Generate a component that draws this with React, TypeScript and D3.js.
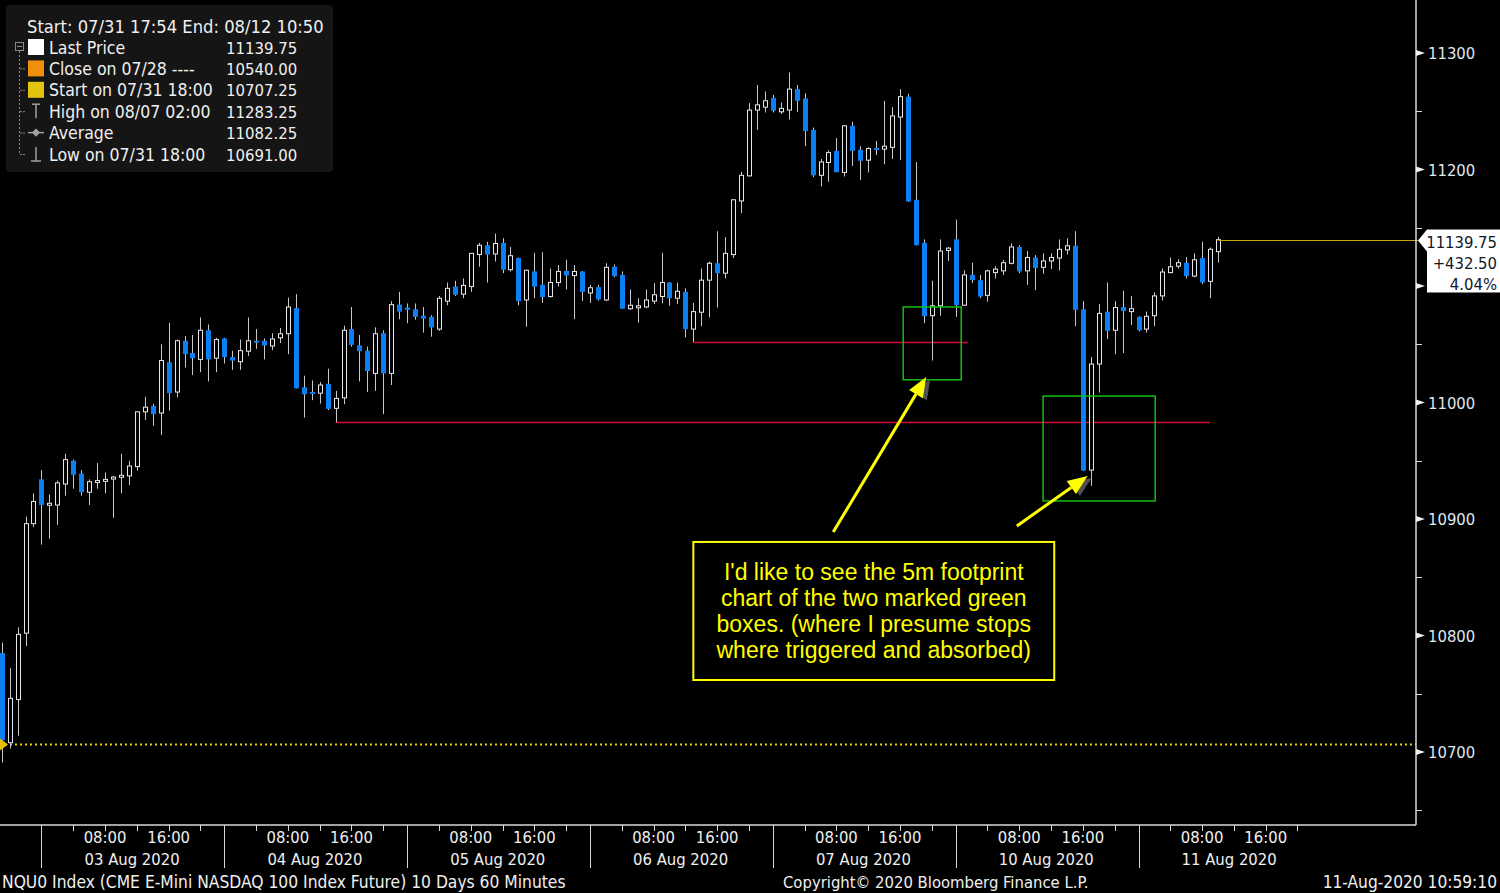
import React, { useEffect } from 'react';
import * as d3 from 'd3';

type Bar = [number, number, number, number]; // open, high, low, close

const preSession: Bar[] = [
  [10785, 10794, 10691, 10710],
  [10708, 10772, 10703, 10746],
  [10745, 10807, 10714, 10801],
  [10802, 10902, 10791, 10896],
  [10896, 10922, 10893, 10915],
];

const aug03: Bar[] = [
  [10934, 10942, 10878, 10912],
  [10912.5, 10921, 10883, 10913.5],
  [10912, 10933, 10895, 10931],
  [10930, 10956, 10920, 10951],
  [10950, 10951, 10926, 10938],
  [10939, 10942, 10920, 10923],
  [10923, 10934, 10912, 10932],
  [10932, 10948, 10926, 10933],
  [10933, 10940, 10922, 10934],
  [10935, 10937, 10901, 10936],
  [10937, 10956, 10922, 10937.5],
  [10937, 10950, 10929, 10945.5],
  [10945, 10992, 10941.5, 10992],
  [10992, 11005, 10985, 10996],
  [10997, 10999, 10980, 10990],
  [10991, 11050, 10972, 11036],
  [11034.5, 11068.5, 10993, 11008],
  [11009, 11054, 11004.5, 11053],
  [11053, 11057, 11030, 11041.5],
  [11042.5, 11058, 11023.5, 11038],
  [11037, 11073, 11026, 11062],
  [11062, 11067, 11018, 11037],
  [11038, 11055.5, 11026, 11054],
];

const aug04: Bar[] = [
  [11055, 11055.5, 11033.5, 11039],
  [11039, 11044.5, 11028, 11036],
  [11035, 11054, 11028, 11044.5],
  [11044, 11073, 11040, 11053],
  [11053, 11063, 11046, 11051.5],
  [11053, 11055, 11037, 11049],
  [11048.5, 11059.5, 11045, 11054.5],
  [11055.5, 11064, 11051, 11059],
  [11059, 11090, 11041.5, 11082],
  [11081, 11093, 11012, 11012.25],
  [11013, 11023, 10987, 11007],
  [11009, 11019, 11002, 11008],
  [11008, 11017.5, 10999, 11015],
  [11016, 11029, 10993.5, 10994.5],
  [10995, 11010, 10983, 11003.5],
  [11004, 11066, 10998.5, 11062],
  [11063, 11082, 11048, 11049.5],
  [11049, 11058, 11018, 11044],
  [11044.5, 11048, 11009, 11027],
  [11025, 11064.5, 11010, 11059],
  [11059.5, 11062, 10990, 11025],
  [11025, 11087, 11015, 11084],
  [11084, 11095, 11071.5, 11078],
];

const aug05: Bar[] = [
  [11081.5, 11085, 11068, 11079.5],
  [11080, 11085, 11071, 11073.5],
  [11074.5, 11082, 11060, 11072],
  [11073.5, 11075, 11056.5, 11064.5],
  [11063, 11091.5, 11061.5, 11089.5],
  [11087, 11103, 11083.5, 11098],
  [11099.5, 11104.5, 11091.5, 11092.5],
  [11093, 11106.5, 11089.5, 11100.5],
  [11099.5, 11128, 11095, 11128],
  [11127, 11137, 11116.5, 11135],
  [11135, 11138, 11103, 11127],
  [11127.5, 11145, 11121, 11136.5],
  [11137, 11141, 11111, 11114],
  [11114, 11133.5, 11112.5, 11126],
  [11124, 11124.5, 11083.5, 11087],
  [11088, 11114, 11065, 11113.5],
  [11112.5, 11128.5, 11089.5, 11099.5],
  [11101, 11129, 11085.5, 11090.5],
  [11091, 11115, 11090, 11103],
  [11103, 11118, 11099.5, 11112.5],
  [11113, 11122.5, 11097, 11109],
  [11109, 11118, 11071.5, 11112.5],
  [11112.5, 11112.75, 11087, 11095],
];

const aug06: Bar[] = [
  [11094, 11101, 11085.5, 11098.5],
  [11099, 11101, 11087.5, 11088.5],
  [11088, 11119.5, 11087, 11116],
  [11116.5, 11118.5, 11107.5, 11108.5],
  [11109.5, 11112.5, 11080.25, 11080.5],
  [11080.5, 11097, 11079.5, 11083.5],
  [11082.5, 11089.5, 11068.5, 11083],
  [11082, 11097, 11081, 11088],
  [11087, 11102.5, 11084.5, 11092.5],
  [11091, 11128.5, 11085, 11103],
  [11103, 11103.25, 11083, 11089.5],
  [11089.5, 11103, 11084.5, 11095.5],
  [11095, 11098, 11056, 11063],
  [11063, 11085.5, 11052, 11078],
  [11077.5, 11115, 11065.5, 11105],
  [11105, 11121, 11073, 11119.5],
  [11119.5, 11147, 11081.5, 11111],
  [11111, 11142, 11106.5, 11128],
  [11127, 11174.5, 11124, 11174],
  [11173, 11198, 11162.5, 11195],
  [11194.5, 11257, 11194.25, 11251],
  [11251, 11272.5, 11234, 11255.5],
  [11253.5, 11267, 11249, 11259],
];

const aug07: Bar[] = [
  [11261.5, 11264, 11249, 11250.5],
  [11249.5, 11257.5, 11247.5, 11252.5],
  [11251, 11283.25, 11243, 11269],
  [11269, 11272.5, 11249.5, 11259],
  [11261, 11265.5, 11220, 11233],
  [11234, 11236, 11193.5, 11195],
  [11195, 11209, 11185.5, 11206.5],
  [11206, 11216.5, 11189.5, 11214.5],
  [11216, 11227, 11197.5, 11197.75],
  [11197.5, 11238, 11194, 11237.5],
  [11237.5, 11241, 11203, 11216],
  [11217, 11220, 11191, 11207.5],
  [11208, 11219, 11197.5, 11218],
  [11218.5, 11224.5, 11212.5, 11217.5],
  [11217.5, 11259, 11204.5, 11220],
  [11219, 11253.5, 11209, 11246],
  [11245, 11269, 11208, 11262.5],
  [11262.5, 11265, 11172.25, 11172.5],
  [11174, 11206.5, 11134.75, 11135],
  [11137, 11140, 11068, 11074],
  [11074.5, 11104.5, 11036, 11083],
  [11083, 11140, 11074.5, 11130],
  [11130.5, 11133.5, 11121.5, 11132.5],
];

const aug10: Bar[] = [
  [11140, 11157, 11073.5, 11083.5],
  [11083.5, 11113.5, 11083.25, 11109.5],
  [11109.5, 11120, 11102.5, 11105],
  [11105, 11109.5, 11089.5, 11091],
  [11092, 11114, 11086.5, 11113],
  [11111.5, 11117, 11106.5, 11114.5],
  [11113, 11122.5, 11109.5, 11120],
  [11119.5, 11136.5, 11118.5, 11133.5],
  [11133.5, 11135, 11111, 11112.5],
  [11113, 11130, 11101, 11124.5],
  [11124.5, 11126.5, 11096.5, 11115.5],
  [11116, 11128, 11110.5, 11121.5],
  [11121.5, 11128, 11114.5, 11124.5],
  [11124, 11140, 11113.5, 11131.5],
  [11131, 11141, 11127, 11134.5],
  [11134.5, 11147, 11065.5, 11079.5],
  [11080, 11087, 10941.25, 10941.5],
  [10942, 11039, 10928.5, 11033],
  [11033, 11084.5, 11008.5, 11076.5],
  [11078, 11103, 11054.5, 11061.5],
  [11062, 11087, 11041.5, 11081.5],
  [11082, 11096, 11042.5, 11078.5],
  [11078, 11091.5, 11066.5, 11080.5],
];

const aug11: Bar[] = [
  [11073.5, 11074, 11061, 11062],
  [11063, 11078, 11060, 11074],
  [11074.5, 11094.5, 11065.5, 11091.5],
  [11091.5, 11115, 11087.5, 11112],
  [11111.5, 11124.5, 11111, 11116.5],
  [11117, 11123, 11115, 11120],
  [11120, 11125, 11106.5, 11108.5],
  [11108.5, 11128, 11107.5, 11122.5],
  [11124, 11138, 11101.5, 11103],
  [11104, 11133, 11089.5, 11131.5],
  [11129.5, 11142.25, 11120, 11139.75],
];

const sessionLabels = ['03 Aug 2020', '04 Aug 2020', '05 Aug 2020', '06 Aug 2020', '07 Aug 2020', '10 Aug 2020', '11 Aug 2020'];
const sessionBars = [aug03, aug04, aug05, aug06, aug07, aug10, aug11];
const hourLabels = ['08:00', '16:00'];
const hourOffsets = [8, 16];
const minorTickOffsets = [4, 8, 12, 16, 20];

const majorYTicks = [10700, 10800, 10900, 11000, 11100, 11200, 11300];
const minorYTicks = [10650, 10750, 10850, 10950, 11050, 11150, 11250];

const lastPrice = 11139.75;
const startPrice = 10707.25;
const changeText = '+432.50';
const pctText = '4.04%';

const legendTitle = 'Start: 07/31 17:54 End: 08/12 10:50';
const legendLabels = ['Last Price', 'Close on 07/28 ----', 'Start on 07/31 18:00', 'High on 08/07 02:00', 'Average', 'Low on 07/31 18:00'];
const legendValues = ['11139.75', '10540.00', '10707.25', '11283.25', '11082.25', '10691.00'];
const legendIcons = ['white', 'orange', 'yellow', 'high', 'avg', 'low'];

// annotations in data space: [barIndex, price]
const redLines = [
  { from: 87, to: 121.5, price: 11052 },
  { from: 42, to: 152, price: 10983 },
];
const greenBoxes = [
  { x0: 113.4, x1: 120.7, p0: 11082, p1: 11019.5 },
  { x0: 131, x1: 145.1, p0: 11005.5, p1: 10915.5 },
];
const arrows = [
  { x0: 104.6, p0: 10888.8, x1: 116.3, p1: 11021.9 },
  { x0: 127.7, p0: 10894, x1: 136.6, p1: 10937 },
];
const noteBox = { x0: 87, x1: 132.4, p0: 10880.3, p1: 10761.8 };
const noteLines = [
  "I'd like to see the 5m footprint",
  'chart of the two marked green',
  'boxes. (where I presume stops',
  'where triggered and absorbed)',
];

const footerLeft = 'NQU0 Index (CME E-Mini NASDAQ 100 Index Future) 10 Days 60 Minutes';
const footerMid = 'Copyright\u00A9 2020 Bloomberg Finance L.P.';
const footerRight = '11-Aug-2020 10:59:10';

const FONT = "'DejaVu Sans Condensed', 'DejaVu Sans', sans-serif";
const BLUE = '#0c7ff2';
const PLOT_R = 1416;
const PLOT_B = 825;

export default function App() {
  useEffect(() => {
    document.body.style.margin = '0';
    document.body.style.background = '#000';
  }, []);

  const bars: Bar[] = [...preSession, ...sessionBars.flat()];
  const sessionStarts: number[] = [];
  let acc = preSession.length;
  for (const s of sessionBars) {
    sessionStarts.push(acc);
    acc += s.length;
  }

  const x = d3.scaleLinear().domain([0, bars.length - 1]).range([1.7, 1218]);
  const y = d3.scaleLinear().domain([10700, 11300]).range([752, 53]);
  const px = (i: number) => Math.round(x(i)) + 0.5;
  const py = (v: number) => Math.round(y(v)) + 0.5;

  const lastX = px(bars.length - 1);
  const lastY = py(lastPrice);
  const labelTop = lastY - 11;
  const labelBottom = lastY + 52;

  return (
    <svg width={1500} height={893} style={{ position: 'absolute', left: 0, top: 0, background: '#000' }} fontFamily={FONT}>
      <rect x={0} y={0} width={1500} height={893} fill="#000" />

      {/* start dotted line */}
      <line x1={0} x2={PLOT_R} y1={py(startPrice)} y2={py(startPrice)} stroke="#e8d000" strokeWidth={2} strokeDasharray="2 3" />

      {/* red lines */}
      {redLines.map((r, i) => (
        <line key={'r' + i} x1={x(r.from)} x2={x(r.to)} y1={py(r.price)} y2={py(r.price)} stroke="#d0103a" strokeWidth={1.5} />
      ))}

      {/* candles */}
      {bars.map((b, i) => {
        const [o, h, l, c] = b;
        const cx = px(i);
        const up = c >= o;
        const top = y(Math.max(o, c));
        const bot = y(Math.min(o, c));
        const bh = Math.max(bot - top, 2);
        return (
          <g key={i}>
            <line x1={cx} x2={cx} y1={y(h)} y2={y(l)} stroke="#c8c8c8" strokeWidth={1} />
            {up ? (
              <rect x={cx - 2} y={top} width={4} height={bh} fill="#000" stroke="#e8e8e8" strokeWidth={1} />
            ) : (
              <rect x={cx - 2.5} y={top} width={5} height={bh} fill={BLUE} />
            )}
          </g>
        );
      })}

      {/* green boxes */}
      {greenBoxes.map((g, i) => (
        <rect key={'g' + i} x={x(g.x0)} y={y(g.p0)} width={x(g.x1) - x(g.x0)} height={y(g.p1) - y(g.p0)} fill="none" stroke="#10c010" strokeWidth={1.5} />
      ))}

      {/* last price line */}
      <line x1={lastX} x2={PLOT_R + 2} y1={lastY} y2={lastY} stroke="#c8a410" strokeWidth={1} />

      {/* start marker */}
      <polygon points={`0,${py(startPrice) - 6} 8,${py(startPrice)} 0,${py(startPrice) + 6}`} fill="#e8c000" />

      {/* arrows */}
      {arrows.map((a, i) => {
        const x0 = x(a.x0), y0 = y(a.p0), x1 = x(a.x1), y1 = y(a.p1);
        const ang = Math.atan2(y1 - y0, x1 - x0);
        const len = 20, half = 8;
        const bx = x1 - len * Math.cos(ang), by = y1 - len * Math.sin(ang);
        const nx = -Math.sin(ang), ny = Math.cos(ang);
        const head = `${x1},${y1} ${bx + nx * half},${by + ny * half} ${bx - nx * half},${by - ny * half}`;
        const shadow = `${x1 + 4},${y1 + 2} ${bx + nx * half + 4},${by + ny * half + 2} ${bx - nx * half + 4},${by - ny * half + 2}`;
        return (
          <g key={'a' + i}>
            <polygon points={shadow} fill="#505050" />
            <line x1={x0} y1={y0} x2={bx} y2={by} stroke="#ffff00" strokeWidth={3} />
            <polygon points={head} fill="#ffff00" />
          </g>
        );
      })}

      {/* note */}
      <rect x={x(noteBox.x0)} y={y(noteBox.p0)} width={x(noteBox.x1) - x(noteBox.x0)} height={y(noteBox.p1) - y(noteBox.p0)} fill="#000" stroke="#ffff00" strokeWidth={2} />
      {noteLines.map((t, i) => (
        <text key={'n' + i} x={(x(noteBox.x0) + x(noteBox.x1)) / 2} y={y(noteBox.p0) + 38 + i * 26} textAnchor="middle" fill="#ffff00" fontFamily="'Liberation Sans', Arial, sans-serif" fontSize={23}>{t}</text>
      ))}

      {/* right axis */}
      <line x1={PLOT_R} x2={PLOT_R} y1={0} y2={PLOT_B} stroke="#d8d8d8" strokeWidth={1.5} />
      {minorYTicks.map((v) => (
        <line key={'mt' + v} x1={PLOT_R} x2={PLOT_R + 6} y1={py(v)} y2={py(v)} stroke="#d8d8d8" strokeWidth={1} />
      ))}
      {majorYTicks.map((v) => {
        const hidden = y(v) > labelTop - 8 && y(v) < labelBottom + 8;
        return (
          <g key={'yt' + v}>
            <polygon points={`${PLOT_R},${y(v) - 3} ${PLOT_R + 9},${y(v)} ${PLOT_R},${y(v) + 3}`} fill="#f0f0f0" />
            {!hidden && <text x={1428} y={y(v) + 6} fill="#dfe8f0" fontSize={16.5}>{v}</text>}
          </g>
        );
      })}

      {/* price label */}
      <polygon points={`${PLOT_R + 2},${lastY} ${PLOT_R + 11},${labelTop} 1500,${labelTop} 1500,${labelBottom} ${PLOT_R + 11},${labelBottom} ${PLOT_R + 11},${lastY + 11}`} fill="#ffffff" />
      <text x={1497} y={lastY + 7} textAnchor="end" fill="#101828" fontSize={16.5}>{lastPrice.toFixed(2)}</text>
      <text x={1497} y={lastY + 28} textAnchor="end" fill="#101828" fontSize={16.5}>{changeText}</text>
      <text x={1497} y={lastY + 49} textAnchor="end" fill="#101828" fontSize={16.5}>{pctText}</text>

      {/* bottom axis */}
      <line x1={0} x2={PLOT_R} y1={PLOT_B} y2={PLOT_B} stroke="#d8d8d8" strokeWidth={1.5} />
      {sessionStarts.map((s, k) => (
        <g key={'s' + k}>
          <line x1={px(s)} x2={px(s)} y1={PLOT_B} y2={868} stroke="#d8d8d8" strokeWidth={1} />
          {minorTickOffsets.map((o) => (
            <line key={o} x1={px(s + o)} x2={px(s + o)} y1={PLOT_B} y2={PLOT_B + 6} stroke="#d8d8d8" strokeWidth={1} />
          ))}
          {hourOffsets.map((o, j) => (
            <text key={'h' + j} x={x(s + o)} y={843} textAnchor="middle" fill="#f0f0f0" fontSize={16.5}>{hourLabels[j]}</text>
          ))}
          <text x={x(s + 11.4)} y={865} textAnchor="middle" fill="#f0f0f0" fontSize={16.5}>{sessionLabels[k]}</text>
        </g>
      ))}

      {/* footer */}
      <text x={2} y={888} fill="#f0f0f0" fontSize={17.3}>{footerLeft}</text>
      <text x={783} y={888} fill="#f0f0f0" fontSize={16.5}>{footerMid}</text>
      <text x={1497} y={888} textAnchor="end" fill="#f0f0f0" fontSize={17.2}>{footerRight}</text>

      {/* legend */}
      <rect x={6} y={5} width={327} height={167} rx={4} fill="#151515" />
      <text x={27} y={33} fill="#f0f0f0" fontSize={18.2}>{legendTitle}</text>
      <rect x={15.5} y={42.5} width={8} height={8} fill="none" stroke="#888" strokeWidth={1} />
      <line x1={17} x2={22} y1={46.5} y2={46.5} stroke="#888" />
      <line x1={19.5} x2={19.5} y1={51} y2={154} stroke="#888" strokeDasharray="2 2" />
      {legendLabels.map((lab, i) => {
        const cy = 47 + i * 21.4;
        const icon = legendIcons[i];
        return (
          <g key={'l' + i}>
            {i > 0 && <line x1={20} x2={26} y1={cy + 0.5} y2={cy + 0.5} stroke="#888" strokeDasharray="2 1" />}
            {icon === 'white' && <rect x={28} y={cy - 8} width={16} height={16} fill="#ffffff" />}
            {icon === 'orange' && <rect x={28} y={cy - 8} width={16} height={16} fill="#f0900a" />}
            {icon === 'yellow' && <rect x={28} y={cy - 8} width={16} height={16} fill="#e2c410" />}
            {icon === 'high' && (
              <g stroke="#a0a0a0" strokeWidth={1.5}>
                <line x1={32} x2={40} y1={cy - 7} y2={cy - 7} />
                <line x1={36} x2={36} y1={cy - 7} y2={cy + 7} />
              </g>
            )}
            {icon === 'avg' && (
              <g stroke="#a0a0a0" strokeWidth={1.5}>
                <line x1={28} x2={44} y1={cy} y2={cy} />
                <polygon points={`${36},${cy - 3} ${39},${cy} ${36},${cy + 3} ${33},${cy}`} fill="#a0a0a0" />
              </g>
            )}
            {icon === 'low' && (
              <g stroke="#a0a0a0" strokeWidth={1.5}>
                <line x1={36} x2={36} y1={cy - 7} y2={cy + 7} />
                <line x1={31} x2={41} y1={cy + 7} y2={cy + 7} />
              </g>
            )}
            <text x={49} y={cy + 6.5} fill="#f0f0f0" fontSize={17.5}>{lab}</text>
            <text x={226} y={cy + 6.5} fill="#f0f0f0" fontSize={16.6}>{legendValues[i]}</text>
          </g>
        );
      })}
    </svg>
  );
}
